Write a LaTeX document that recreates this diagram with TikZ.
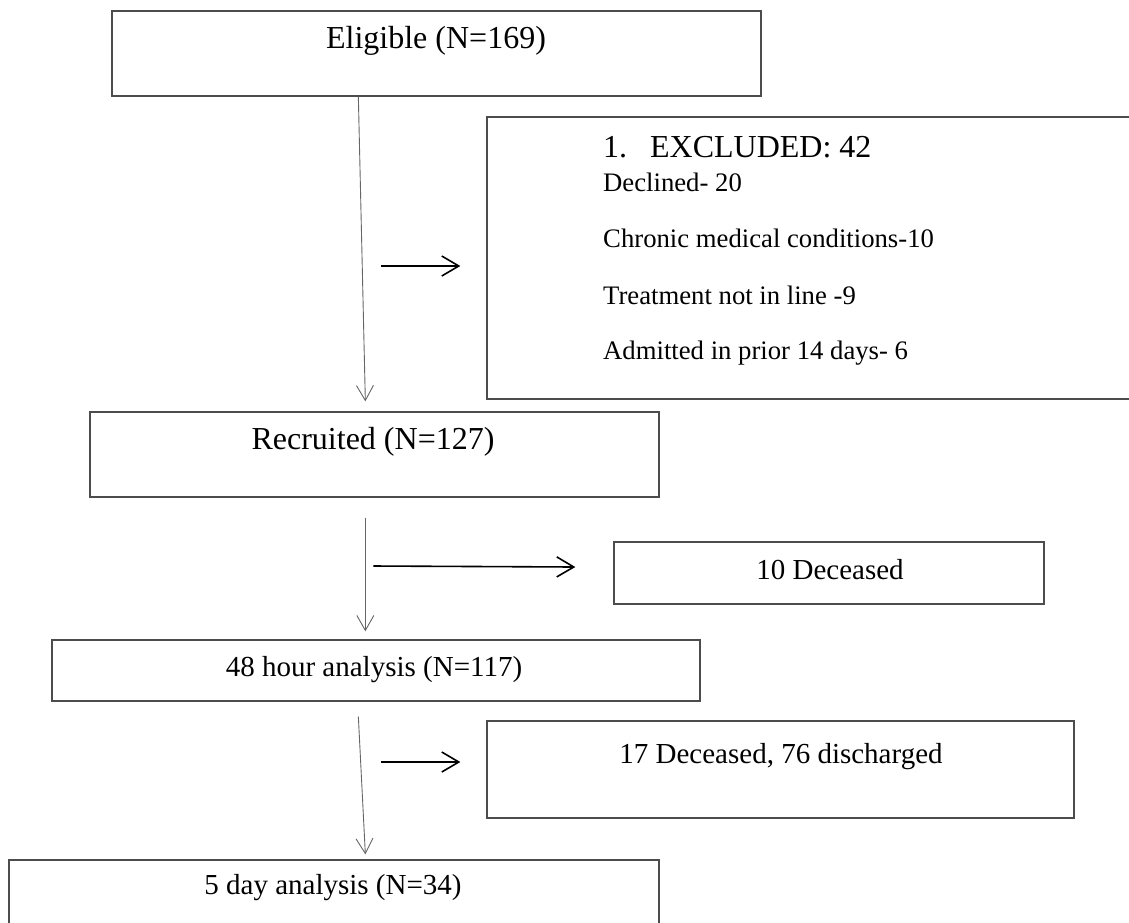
\documentclass[tikz,border=0pt]{standalone}
\usepackage{fontspec}
\setmainfont{Liberation Serif}
\usetikzlibrary{arrows.meta,calc}
\begin{document}
\begin{tikzpicture}[x=1pt,y=-1pt,
  box/.style={draw=black!70,line width=1.3pt,rectangle,inner sep=0pt},
  big/.style={font=\fontsize{32}{38}\selectfont,inner sep=0pt},
  mid/.style={font=\fontsize{29}{35}\selectfont,inner sep=0pt},
  item/.style={font=\fontsize{26.7}{32}\selectfont,inner sep=0pt,anchor=west},
  flow/.style={draw=black!60,line width=0.9pt,-{Straight Barb[length=15pt,width=17pt,line width=0.9pt]}},
  side/.style={draw=black,line width=1.6pt,-{Straight Barb[length=17pt,width=20pt,line width=1.6pt]}}
]
\useasboundingbox (0,0) rectangle (1129,922);

% boxes
\node[box,minimum width=649pt,minimum height=85pt] (elig) at (436.5,53.5) {};
\node[box,minimum width=653pt,minimum height=282pt] (excl) at (813.5,258) {};
\node[box,minimum width=569pt,minimum height=85pt] (rec) at (374.5,454.5) {};
\node[box,minimum width=430pt,minimum height=62pt] (dec1) at (829,573) {};
\node[box,minimum width=648pt,minimum height=61pt] (h48) at (376,670.5) {};
\node[box,minimum width=587pt,minimum height=97pt] (dec2) at (780.5,769.5) {};
\node[box,minimum width=650pt,minimum height=75pt] (d5) at (334,897.5) {};

% box texts
\node[big] (eligtxt) at (436,41) {Eligible (N=169)};
\node[big,anchor=west] (excltitle) at (603,147) {1.\hspace{23pt}EXCLUDED: 42};
\node[item] (exa) at (603,182) {Declined- 20};
\node[item] (exb) at (603,238) {Chronic medical conditions-10};
\node[item] (exc) at (603,295) {Treatment not in line -9};
\node[item] (exd) at (603,353) {Admitted in prior 14 days- 6};
\node[big] (rectxt) at (373,442) {Recruited (N=127)};
\node[mid] (dec1txt) at (830,570) {10 Deceased};
\node[mid] (h48txt) at (374,670) {48 hour analysis (N=117)};
\node[mid] (dec2txt) at (781,757) {17 Deceased, 76 discharged};
\node[mid] (d5txt) at (333,888) {5 day analysis (N=34)};

% main flow
\draw[flow] ($(elig.south west)+(247,0)$) -- ($(rec.north west)+(276,-10)$);
\draw[flow] ($(rec.south west)+(276,20)$) -- ($(h48.north west)+(314,-8)$);
\draw[flow] ($(h48.south west)+(307,15)$) -- ($(d5.north west)+(357,-5)$);

% side branches
\draw[side] ($(excl.west)+(-105,8)$) -- ($(excl.west)+(-26,8)$);
\draw[side] ($(dec1.west)+(-240,-7)$) -- ($(dec1.west)+(-38,-6)$);
\draw[side] ($(dec2.west)+(-105,-7.5)$) -- ($(dec2.west)+(-26,-7.5)$);
\end{tikzpicture}
\end{document}
